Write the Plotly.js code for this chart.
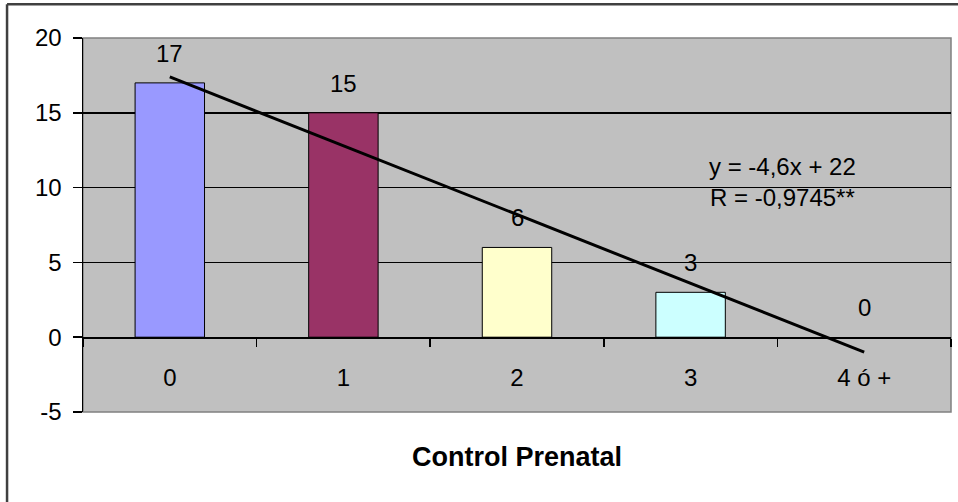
<!DOCTYPE html>
<html><head><meta charset="utf-8">
<script src="https://cdn.plot.ly/plotly-3.0.1.min.js"></script>
<style>html,body{margin:0;padding:0;background:#fff;}#chart{width:958px;height:502px;}</style>
</head><body><div id="chart"></div>
<script>
const categories = ["0", "1", "2", "3", "4 ó +"];
const counts = [17, 15, 6, 3, 0];
const barColors = ["#9999FF", "#993366", "#FFFFCC", "#CCFFFF", "#C0C0C0"];
const trendX = ["0", "4 ó +"];
const trendY = [17.4, -1.0];
const yTicks = [-5, 0, 5, 10, 15, 20];
const gridTicks = [5, 10, 15];
const equationText = "y = -4,6x + 22<br>R = -0,9745**";
const xTitle = "Control Prenatal";

const font = "Liberation Sans, Arial, sans-serif";

const bars = {
  type: "bar", x: categories, y: counts, width: 0.4,
  marker: {color: barColors, line: {color: "#000", width: counts.map(v => v === 0 ? 0 : 1)}},
  hoverinfo: "skip", showlegend: false
};
const trend = {
  type: "scatter", mode: "lines", x: trendX, y: trendY,
  line: {color: "#000", width: 3}, hoverinfo: "skip", showlegend: false
};

const labelAnn = categories.map((c, i) => ({
  x: c, y: counts[i], xref: "x", yref: "y", text: String(counts[i]),
  showarrow: false, yanchor: "bottom", yshift: 14,
  font: {family: font, size: 24, color: "#000"}
}));

const layout = {
  width: 958, height: 502,
  margin: {l: 83, r: 7, t: 38, b: 90},
  paper_bgcolor: "#fff", plot_bgcolor: "#C0C0C0",
  xaxis: {
    type: "category", range: [-0.5, 4.5],
    anchor: "free", position: 0.2,
    showline: true, linecolor: "#000", linewidth: 1.5,
    ticks: "outside", tickson: "boundaries", ticklen: 8, tickcolor: "#000", tickwidth: 1.5,
    ticklabelstandoff: 18,
    showgrid: false, zeroline: false,
    tickfont: {family: font, size: 24, color: "#000"}
  },
  yaxis: {
    range: [-5, 20], tickvals: yTicks, ticktext: yTicks.map(String),
    showline: true, linecolor: "#000", linewidth: 1.5,
    ticks: "outside", ticklen: 9, tickcolor: "#000", tickwidth: 1.5,
    ticklabelstandoff: 6,
    showgrid: false, zeroline: false,
    tickfont: {family: font, size: 24, color: "#000"}
  },
  yaxis2: {
    overlaying: "y", range: [-5, 20], tickvals: gridTicks,
    showgrid: true, gridcolor: "#000", gridwidth: 1.5,
    showticklabels: false, ticks: "", zeroline: false, showline: false
  },
  shapes: [
    {type: "rect", xref: "paper", yref: "paper", x0: 0, x1: 1, y0: 0, y1: 1,
     line: {color: "#808080", width: 1.5}, layer: "below"},
    {type: "line", xref: "paper", yref: "paper", x0: -0.0875, x1: 1.01, y0: 1.09, y1: 1.09,
     line: {color: "#404040", width: 2.5}},
    {type: "line", xref: "paper", yref: "paper", x0: -0.0875, x1: -0.0875, y0: 1.09, y1: -0.25,
     line: {color: "#404040", width: 2.5}}
  ],
  annotations: labelAnn.concat([
    {x: "3", y: 10.35, xref: "x", yref: "y", xshift: 92, text: equationText, showarrow: false,
     align: "center", font: {family: font, size: 24, color: "#000"}},
    {x: 0.5, y: -0.165, xref: "paper", yref: "paper", text: xTitle, showarrow: false,
     font: {family: font, size: 27, color: "#000", weight: "bold"}}
  ])
};

const gridTrace = {type: "scatter", x: [], y: [], yaxis: "y2", hoverinfo: "skip", showlegend: false};

Plotly.newPlot("chart", [gridTrace, bars, trend], layout, {displayModeBar: false, staticPlot: true});
</script></body></html>
